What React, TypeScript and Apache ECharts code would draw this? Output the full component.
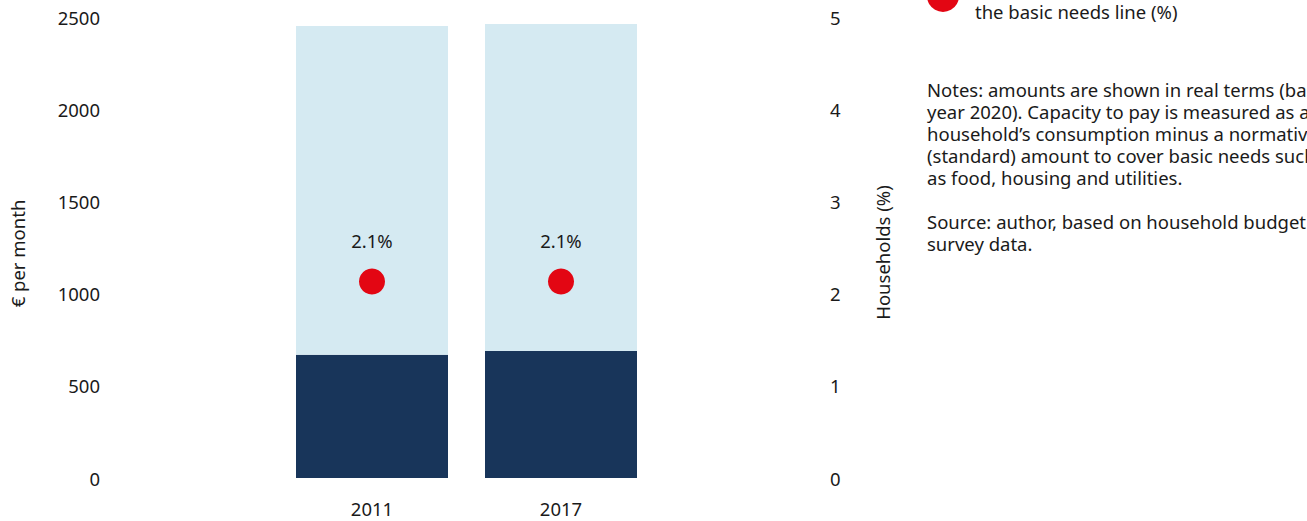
import React, { useEffect, useRef } from "react";
import * as echarts from "echarts";

const years = ["2011", "2017"];
const basicNeeds = [669, 689];
const capacityToPay = [1782, 1773];
const householdsBelowLine = [2.13, 2.13];

const leftAxisName = "€ per month";
const rightAxisName = "Households (%)";
const legendText = "the basic needs line (%)";
const notesLines = [
  "Notes: amounts are shown in real terms (base",
  "year 2020). Capacity to pay is measured as a",
  "household’s consumption minus a normative",
  "(standard) amount to cover basic needs such",
  "as food, housing and utilities.",
  "",
  "Source: author, based on household budget",
  "survey data.",
];

const FONT = "Noto Sans";
const TEXT = "#1a1a1a";
const FS = 18.5;

export default function App() {
  const ref = useRef<HTMLDivElement>(null);
  useEffect(() => {
    if (!ref.current) return;
    const chart = echarts.init(ref.current, undefined, { renderer: "svg" });
    chart.setOption({
      animation: false,
      textStyle: { fontFamily: FONT },
      grid: { left: 277.5, right: 651.5, top: 17, bottom: 43 },
      xAxis: {
        type: "category",
        data: years,
        axisLine: { show: false },
        axisTick: { show: false },
        axisLabel: { color: TEXT, fontSize: FS, margin: 21, fontFamily: FONT },
      },
      yAxis: [
        {
          type: "value",
          min: 0,
          max: 2500,
          interval: 500,
          position: "left",
          offset: 169.5,
          name: leftAxisName,
          nameLocation: "middle",
          nameGap: 81,
          nameTextStyle: { color: TEXT, fontSize: FS, fontFamily: FONT, padding: [0, 12, 0, 0] },
          axisLine: { show: false },
          axisTick: { show: false },
          splitLine: { show: false },
          axisLabel: {
            color: TEXT,
            fontSize: FS,
            margin: 8,
            fontFamily: FONT,
            formatter: (v: number) => String(v),
          },
        },
        {
          type: "value",
          min: 0,
          max: 5,
          interval: 1,
          position: "right",
          offset: 166.5,
          name: rightAxisName,
          nameLocation: "middle",
          nameGap: 51,
          nameTextStyle: { color: TEXT, fontSize: FS, fontFamily: FONT, padding: [0, 10, 0, 0] },
          axisLine: { show: false },
          axisTick: { show: false },
          splitLine: { show: false },
          axisLabel: {
            color: TEXT,
            fontSize: FS,
            margin: 8,
            fontFamily: FONT,
            formatter: (v: number) => String(v),
          },
        },
      ],
      series: [
        {
          type: "bar",
          name: "Basic needs",
          stack: "a",
          data: basicNeeds,
          barWidth: 152,
          itemStyle: { color: "#18355a" },
        },
        {
          type: "bar",
          name: "Capacity to pay",
          stack: "a",
          data: capacityToPay,
          barWidth: 152,
          itemStyle: { color: "#d5eaf2" },
        },
        {
          type: "scatter",
          name: "Households below the basic needs line (%)",
          yAxisIndex: 1,
          data: householdsBelowLine,
          symbol: "circle",
          symbolSize: 26,
          itemStyle: { color: "#e30613", opacity: 1 },
          z: 5,
          label: {
            show: true,
            position: "top",
            distance: 19,
            color: TEXT,
            fontSize: FS,
            fontFamily: FONT,
            formatter: (p: any) => `${Number(p.value).toFixed(1)}%`,
          },
        },
      ],
      graphic: [
        {
          type: "circle",
          shape: { cx: 943, cy: -4, r: 16 },
          style: { fill: "#e30613" },
        },
        {
          type: "text",
          x: 975,
          y: 11,
          style: {
            text: legendText,
            fill: TEXT,
            font: `${FS}px "${FONT}"`,
            verticalAlign: "middle",
          },
        },
        {
          type: "text",
          x: 927,
          y: 78,
          style: {
            text: notesLines.join("\n"),
            fill: TEXT,
            font: `${FS}px "${FONT}"`,
            lineHeight: 22,
            verticalAlign: "top",
          },
        },
      ],
    });
    return () => chart.dispose();
  }, []);
  return (
    <div
      ref={ref}
      style={{ position: "fixed", left: 0, top: 0, width: 1307, height: 521, background: "#fff" }}
    />
  );
}
